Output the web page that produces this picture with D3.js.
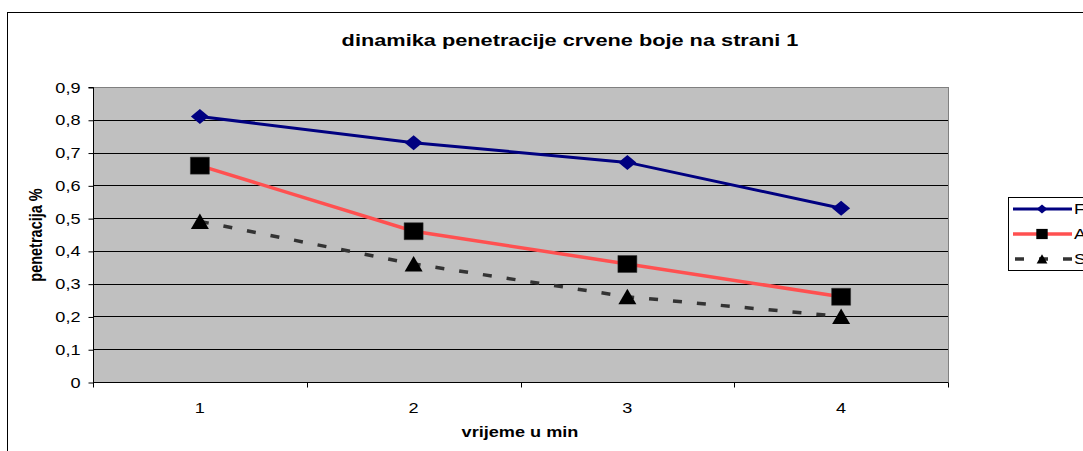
<!DOCTYPE html>
<html><head><meta charset="utf-8">
<script src="https://cdn.jsdelivr.net/npm/d3@7"></script>
<style>
html,body{margin:0;padding:0;background:#fff;overflow:hidden;}
text{font-family:"Liberation Sans",Arial,sans-serif;fill:#000;}
</style></head>
<body>
<svg id="c" width="1083" height="451"></svg>
<script>
const categories = ["1","2","3","4"];
const seriesNames = ["F","A","S"];
const seriesF = [0.81, 0.73, 0.67, 0.53];
const seriesA = [0.66, 0.46, 0.36, 0.26];
const seriesS = [0.49, 0.36, 0.26, 0.20];
const yTicks = [0,0.1,0.2,0.3,0.4,0.5,0.6,0.7,0.8,0.9];
const titleText = "dinamika penetracije crvene boje na strani 1";
const xTitle = "vrijeme u min";
const yTitle = "penetracija %";

const SX = 1.25; // horizontal stretch of the original picture
const svg = d3.select("#c");
const plot = {l:93, t:87, r:948, b:382};

// outer chart border
svg.append("rect").attr("x",7.5).attr("y",12.5).attr("width",1130).attr("height",460)
  .attr("fill","#fff").attr("stroke","#000").attr("stroke-width",1);

const x = d3.scaleBand().domain(categories).range([plot.l, plot.r]).padding(0);
const y = d3.scaleLinear().domain([0,0.9]).range([plot.b, plot.t]);

// plot area
svg.append("rect").attr("x",plot.l).attr("y",plot.t).attr("width",plot.r-plot.l).attr("height",plot.b-plot.t)
  .attr("fill","#c0c0c0").attr("stroke","#808080").attr("stroke-width",1).attr("shape-rendering","crispEdges");

// gridlines
svg.append("g").selectAll("line").data(yTicks.filter(v=>v>0 && v<0.9)).join("line")
  .attr("x1",plot.l).attr("x2",plot.r).attr("y1",d=>Math.round(y(d))+0.5).attr("y2",d=>Math.round(y(d))+0.5)
  .attr("stroke","#000").attr("stroke-width",1);

function stretchText(g, txt, px, py, opts){
  const t = g.append("text").attr("transform",`translate(${px},${py}) scale(${SX},1)`+(opts.rotate?` rotate(${opts.rotate})`:""))
    .attr("text-anchor",opts.anchor||"middle").attr("font-size",opts.size).attr("font-weight",opts.weight||"normal")
    .text(txt);
  return t;
}

// y axis
const yAxis = d3.axisLeft(y).tickValues(yTicks).tickSize(5).tickFormat(d=>d===0?"0":d3.format(".1f")(d).replace(".",","));
const gy = svg.append("g").attr("transform",`translate(${plot.l+0.5},0)`).call(yAxis);
gy.select(".domain").attr("stroke","#000").attr("d",`M-5,${y(0.9)+0.5}H0V${plot.b+0.5}`);
gy.selectAll(".tick line").attr("stroke","#000").attr("transform","translate(0,0.5)");
gy.selectAll(".tick text").remove();
gy.selectAll(".tick").each(function(d){
  stretchText(d3.select(this), d===0?"0":d3.format(".1f")(d).replace(".",","), -13, 5, {anchor:"end", size:14.5});
});

// x axis
const xAxis = d3.axisBottom(x).tickSize(0);
const gx = svg.append("g").attr("transform",`translate(0,${plot.b+0.5})`).call(xAxis);
gx.select(".domain").attr("stroke","#000").attr("d",`M${plot.l},0H${plot.r}`);
gx.selectAll(".tick text").remove();
gx.selectAll(".tick").each(function(d){
  stretchText(d3.select(this), d, 0, 30, {size:14.5});
});
const bounds = categories.map(c=>x(c)).concat([plot.r]);
gx.append("g").selectAll("line").data(bounds).join("line")
  .attr("x1",d=>Math.round(d)+0.5).attr("x2",d=>Math.round(d)+0.5).attr("y1",0).attr("y2",5).attr("stroke","#000");

// titles
stretchText(svg, titleText, 570, 46, {size:17.4, weight:"bold"});
stretchText(svg, xTitle, 520, 437, {size:14.5, weight:"bold"});
stretchText(svg, yTitle, 42, 235, {size:14.5, weight:"bold", rotate:-90});

// series
const cx = d => x(d) + x.bandwidth()/2;
const line = d3.line().x((v,i)=>cx(categories[i])).y(v=>y(v));
const series = [
  {name:seriesNames[0], vals:seriesF, color:"#000080", dash:null, width:3, marker:"diamond", mfill:"#000080"},
  {name:seriesNames[1], vals:seriesA, color:"#ff5050", dash:null, width:3.5, marker:"square", mfill:"#000"},
  {name:seriesNames[2], vals:seriesS, color:"#333333", dash:"9,15", width:3.5, marker:"triangle", mfill:"#000"}
];
function markerPath(type){
  if(type==="diamond") return "M0,-7.5L9,0L0,7.5L-9,0Z";
  if(type==="square") return "M-9.5,-8.5H9.5V8.5H-9.5Z";
  return "M0,-8L9,7.5H-9Z";
}
series.forEach(s=>{
  svg.append("path").datum(s.vals).attr("d",line).attr("fill","none").attr("stroke",s.color)
    .attr("stroke-width",s.width).attr("stroke-dasharray",s.dash);
  svg.append("g").selectAll("path").data(s.vals).join("path")
    .attr("transform",(v,i)=>`translate(${cx(categories[i])},${y(v)})`)
    .attr("d",markerPath(s.marker)).attr("fill",s.mfill).attr("stroke",s.marker==="square"?"#333":"none").attr("stroke-width",0.5);
});

// legend
const lg = svg.append("g");
lg.append("rect").attr("x",1008.5).attr("y",197.5).attr("width",120).attr("height",73)
  .attr("fill","#fff").attr("stroke","#000");
const ly = d3.scalePoint().domain(seriesNames).range([209,259]);
series.forEach(s=>{
  const yy = ly(s.name);
  lg.append("line").attr("x1",1013).attr("x2",1072).attr("y1",yy).attr("y2",yy)
    .attr("stroke",s.color).attr("stroke-width",s.width).attr("stroke-dasharray",s.dash?"9,15":null)
    .attr("stroke-dashoffset",s.dash?-2:null);
  lg.append("path").attr("transform",`translate(1042,${yy}) scale(0.6)`).attr("d",markerPath(s.marker)).attr("fill",s.mfill);
  stretchText(lg, s.name, 1074, yy+5, {anchor:"start", size:14.5});
});
</script>
</body></html>
